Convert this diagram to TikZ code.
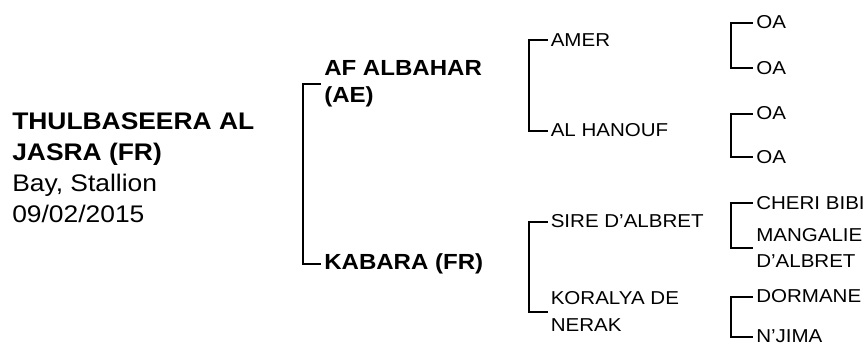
\documentclass[tikz,border=0pt]{standalone}
\usepackage{fontspec}
\setmainfont[FakeStretch=1.1]{Liberation Sans}
\usepackage{tikz}
\usetikzlibrary{positioning}
\tikzset{
    pedline/.style={line width=1.5pt, black},
    horse/.style={anchor=west, align=left, inner xsep=2.25pt, inner ysep=0pt},
    gen1/.style={horse, font=\bfseries\fontsize{16.4}{20.25}\selectfont},
    gen2/.style={horse, font=\fontsize{14}{19.9}\selectfont},
    gen3/.style={horse, font=\fontsize{14}{19.9}\selectfont}
}

\begin{document}
\begin{tikzpicture}[x=0.75pt, y=-0.75pt]
    \useasboundingbox (0,0) rectangle (866,343);

    % the horse itself
    \node[anchor=west, align=left, inner sep=0pt, font=\fontsize{18}{23.25}\selectfont] (title) at (12,168) {
        \textbf{THULBASEERA AL}\\
        \textbf{JASRA (FR)}\\
        Bay, Stallion\\
        09/02/2015
    };

    % sire and dam
    \node[gen1] (afalbahar) at (321,83.5) {AF ALBAHAR\\(AE)};
    \node[gen1] (kabara) at (321,264) {KABARA (FR)};

    % grandparents
    \node[gen2] (amer) at (547.5,40) {AMER};
    \node[gen2] (alhanouf) at (547.5,130.5) {AL HANOUF};
    \node[gen2] (sire) at (547.5,221.5) {SIRE D’ALBRET};
    \node[gen2] (koralya) at (547.5,311.5) {KORALYA DE\\NERAK};

    % great grandparents
    \node[gen3] (oa1) at (753,22.5) {OA};
    \node[gen3] (oa2) at (753,68) {OA};
    \node[gen3] (oa3) at (753,113.5) {OA};
    \node[gen3] (oa4) at (753,157) {OA};
    \node[gen3] (cheri) at (753,203) {CHERI BIBI};
    \node[gen3] (mangalie) at (753,248) {MANGALIE\\D’ALBRET};
    \node[gen3] (dormane) at (753,296.5) {DORMANE};
    \node[gen3] (njima) at (753,336.5) {N’JIMA};

    \foreach \up/\lo/\len in {afalbahar/kabara/18.5, amer/alhanouf/19, sire/koralya/19,
                              oa1/oa2/22.5, oa3/oa4/22.5, cheri/mangalie/22.5, dormane/njima/22.5}
        \draw[pedline] (\up.west) -- ++(-\len,0) |- (\lo.west);
\end{tikzpicture}
\end{document}
